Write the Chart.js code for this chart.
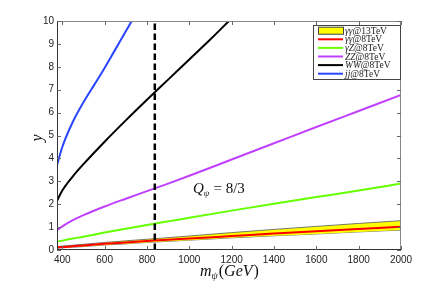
<!DOCTYPE html>
<html>
<head>
<meta charset="utf-8">
<script src="https://cdn.jsdelivr.net/npm/chart.js@4"></script>
<style>
  html, body { margin: 0; padding: 0; background: #fff; }
  #wrap { width: 443px; height: 282px; }
</style>
</head>
<body>
<div id="wrap"><canvas id="myChart" width="443" height="282"></canvas></div>
<script>
// masses (GeV) shared by the lower curves
var mass = [375, 400, 450, 500, 600, 700, 800, 900, 1000, 1200, 1400, 1600, 1800, 2000];
var zzVals = [0.87, 1.03, 1.3, 1.52, 1.9, 2.24, 2.57, 2.9, 3.24, 3.95, 4.66, 5.37, 6.07, 6.77];
var gzVals = [0.36, 0.41, 0.5, 0.58, 0.76, 0.93, 1.09, 1.25, 1.41, 1.72, 2.02, 2.31, 2.6, 2.9];
var gg8Vals = [0.11, 0.13, 0.16, 0.2, 0.27, 0.33, 0.39, 0.45, 0.5, 0.61, 0.72, 0.82, 0.92, 1.02];
var gg13Hi = [0.15, 0.17, 0.21, 0.25, 0.33, 0.4, 0.47, 0.54, 0.61, 0.76, 0.9, 1.03, 1.16, 1.28];
var gg13Lo = [0.08, 0.1, 0.12, 0.15, 0.22, 0.27, 0.33, 0.38, 0.43, 0.53, 0.62, 0.7, 0.79, 0.87];

// steep curves leave the frame at y = 10
var jjMass = [375, 400, 450, 500, 550, 600, 650, 700, 728];
var jjVals = [3.7, 4.5, 5.6, 6.45, 7.2, 7.95, 8.75, 9.55, 10];
var wwMass = [375, 400, 450, 500, 600, 700, 800, 900, 1000, 1100, 1187];
var wwVals = [2.15, 2.6, 3.22, 3.75, 4.73, 5.66, 6.56, 7.44, 8.32, 9.2, 10];

var cutMass = [837, 837];
var cutVals = [0, 10];

var xTicks = [400, 600, 800, 1000, 1200, 1400, 1600, 1800, 2000];
var yTicks = [0, 1, 2, 3, 4, 5, 6, 7, 8, 9, 10];

var legendItems = [
    { it: 'γγ', rest: '@13TeV', color: '#ffff00', box: true },
    { it: 'γγ', rest: '@8TeV', color: '#ff0000' },
    { it: 'γZ', rest: '@8TeV', color: '#66ff00' },
    { it: 'ZZ', rest: '@8TeV', color: '#c040ff' },
    { it: 'WW', rest: '@8TeV', color: '#000000' },
    { it: 'jj', rest: '@8TeV', color: '#2a45ff' }
];

function pts(xs, ys) {
    return xs.map(function(x, i) { return { x: x, y: ys[i] }; });
}

function line(data, color, width) {
    return {
        data: data,
        borderColor: color,
        borderWidth: width,
        pointRadius: 0,
        fill: false,
        cubicInterpolationMode: 'monotone'
    };
}

var dashed = line(pts(cutMass, cutVals), '#000', 2.5);
dashed.borderDash = [6.5, 3.5];
dashed.cubicInterpolationMode = 'default';

var bandHi = line(pts(mass, gg13Hi), '#555', 0.8);
bandHi.fill = '+1';
bandHi.backgroundColor = '#ffff00';
var bandLo = line(pts(mass, gg13Lo), '#555', 0.8);

function drawMixed(ctx, parts, x, y) {
    parts.forEach(function(p) {
        ctx.font = p[1];
        ctx.fillText(p[0], x, y + (p[2] || 0));
        x += ctx.measureText(p[0]).width + (p[3] || 0);
    });
    return x;
}

var decor = {
    id: 'decor',
    afterDraw: function(chart) {
        var ctx = chart.ctx;
        var a = chart.chartArea;
        var xs = chart.scales.x, ys = chart.scales.y;
        ctx.save();
        // frame
        ctx.lineWidth = 1;
        ctx.strokeStyle = '#888';
        ctx.beginPath();
        ctx.moveTo(a.left, a.top + 0.5); ctx.lineTo(a.right, a.top + 0.5);
        ctx.moveTo(a.right - 0.5, a.top); ctx.lineTo(a.right - 0.5, a.bottom);
        ctx.stroke();
        ctx.strokeStyle = '#333';
        ctx.beginPath();
        ctx.moveTo(a.left + 0.5, a.top); ctx.lineTo(a.left + 0.5, a.bottom);
        ctx.moveTo(a.left, a.bottom - 0.5); ctx.lineTo(a.right, a.bottom - 0.5);
        ctx.stroke();
        // inward ticks
        ctx.strokeStyle = '#666';
        ctx.beginPath();
        xTicks.forEach(function(v) {
            var px = Math.round(xs.getPixelForValue(v)) + 0.5;
            ctx.moveTo(px, a.bottom); ctx.lineTo(px, a.bottom - 4);
            ctx.moveTo(px, a.top); ctx.lineTo(px, a.top + 4);
        });
        yTicks.forEach(function(v) {
            var py = Math.round(ys.getPixelForValue(v)) + 0.5;
            ctx.moveTo(a.left, py); ctx.lineTo(a.left + 4, py);
            ctx.moveTo(a.right, py); ctx.lineTo(a.right - 4, py);
        });
        ctx.stroke();

        // legend
        var lx = 313, ly = 25, lw = 87, lh = 54;
        ctx.fillStyle = '#fff';
        ctx.fillRect(lx, ly, lw, lh);
        ctx.strokeStyle = '#444';
        ctx.lineWidth = 1;
        ctx.strokeRect(lx + 0.5, ly + 0.5, lw, lh);
        ctx.textBaseline = 'middle';
        ctx.textAlign = 'left';
        legendItems.forEach(function(item, i) {
            var cy = 30.7 + i * 8.6;
            if (item.box) {
                ctx.fillStyle = item.color;
                ctx.fillRect(318, cy - 3.5, 25, 7);
                ctx.strokeStyle = '#444';
                ctx.strokeRect(318.5, cy - 3.5, 25, 7);
            } else {
                ctx.strokeStyle = item.color;
                ctx.lineWidth = 2;
                ctx.beginPath();
                ctx.moveTo(318, cy); ctx.lineTo(343, cy);
                ctx.stroke();
            }
            ctx.fillStyle = '#222';
            drawMixed(ctx, [
                [item.it, 'italic 9.5px "Liberation Serif"'],
                [item.rest, '9.5px "Liberation Serif"']
            ], 345, cy + 0.5);
        });

        // axis titles
        ctx.fillStyle = '#111';
        ctx.textBaseline = 'alphabetic';
        var xl = 200;
        xl = drawMixed(ctx, [['m', 'italic 16px "Liberation Serif"']], xl, 276);
        xl = drawMixed(ctx, [['ψ', 'italic 10px "Liberation Serif"', 3, 1]], xl, 276);
        xl = drawMixed(ctx, [['(', '16px "Liberation Serif"']], xl, 276);
        xl = drawMixed(ctx, [['GeV', 'italic 16px "Liberation Serif"', 0, 1]], xl, 276);
        drawMixed(ctx, [[')', '16px "Liberation Serif"']], xl, 276);

        ctx.save();
        ctx.translate(42, 138);
        ctx.rotate(-Math.PI / 2);
        ctx.textAlign = 'center';
        ctx.font = 'italic 16px "Liberation Serif"';
        ctx.fillText('y', 0, 0);
        ctx.restore();

        // annotation
        var qx = 193;
        qx = drawMixed(ctx, [['Q', 'italic 15px "Liberation Serif"']], qx, 193);
        qx = drawMixed(ctx, [['ψ', 'italic 9px "Liberation Serif"', 3, 4]], qx, 193);
        drawMixed(ctx, [['= 8/3', '15px "Liberation Serif"']], qx, 193);
        ctx.restore();
    }
};

const ctx = document.getElementById('myChart');
new Chart(ctx, {
    type: 'line',
    data: {
        datasets: [
            dashed,
            line(pts(jjMass, jjVals), '#2a45ff', 2),
            line(pts(wwMass, wwVals), '#000000', 2),
            line(pts(mass, zzVals), '#c040ff', 2),
            line(pts(mass, gzVals), '#66ff00', 2),
            line(pts(mass, gg8Vals), '#ff0000', 2),
            bandHi,
            bandLo
        ]
    },
    options: {
        responsive: false,
        animation: false,
        layout: { padding: { left: 0, right: 42, top: 21, bottom: 0 } },
        plugins: {
            legend: { display: false },
            tooltip: { enabled: false },
            filler: { propagate: false }
        },
        scales: {
            x: {
                type: 'linear',
                min: 375,
                max: 2000,
                grid: { display: false, drawTicks: false, tickLength: 0 },
                border: { display: false },
                afterBuildTicks: function(scale) {
                    scale.ticks = xTicks.map(function(v) { return { value: v }; });
                },
                afterFit: function(scale) { scale.height = 32; },
                ticks: {
                    color: '#222',
                    padding: 4,
                    maxRotation: 0,
                    autoSkip: false,
                    font: { family: 'Liberation Sans', size: 10 },
                    callback: function(v) { return String(v); }
                }
            },
            y: {
                min: 0,
                max: 10,
                grid: { display: false, drawTicks: false, tickLength: 0 },
                border: { display: false },
                afterBuildTicks: function(scale) {
                    scale.ticks = yTicks.map(function(v) { return { value: v }; });
                },
                afterFit: function(scale) { scale.width = 57; },
                ticks: {
                    color: '#222',
                    padding: 3,
                    font: { family: 'Liberation Sans', size: 10 },
                    callback: function(v) { return String(v); }
                }
            }
        }
    },
    plugins: [decor]
});
</script>
</body>
</html>
